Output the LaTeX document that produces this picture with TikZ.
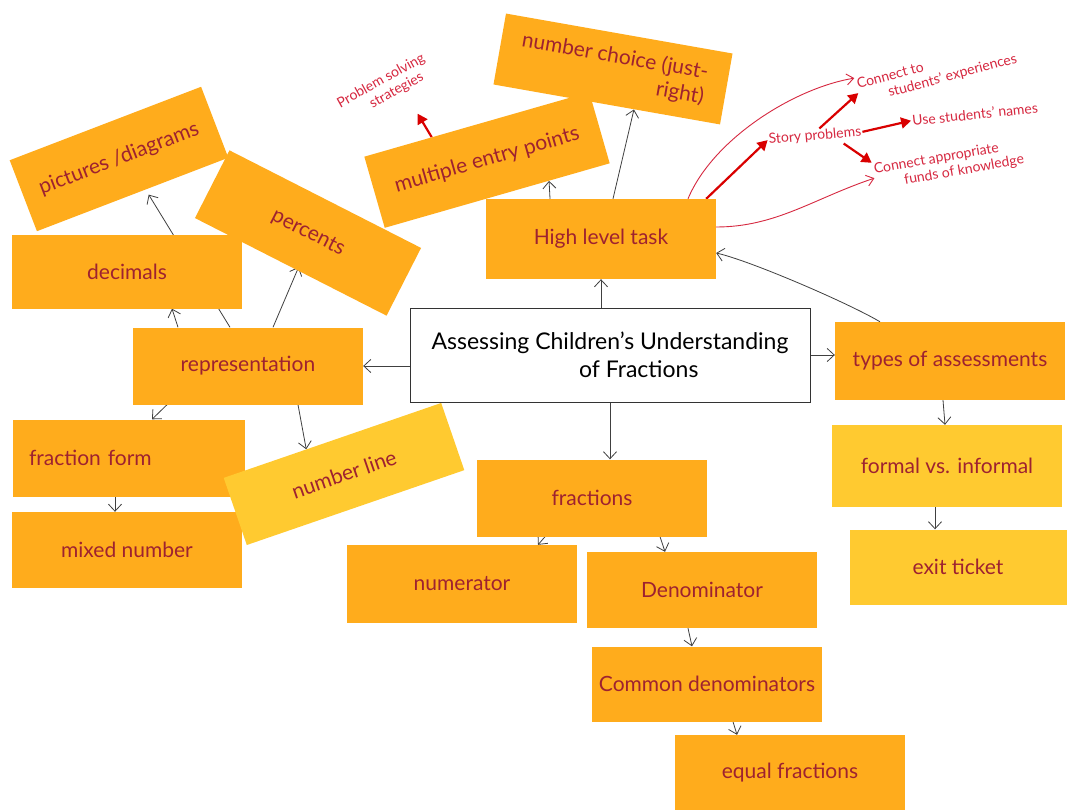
\documentclass[tikz,border=0pt]{standalone}
\usepackage{fontspec}
\setmainfont{Lato}
\usetikzlibrary{arrows.meta,calc}
\definecolor{noteorange}{RGB}{255,172,28}
\definecolor{noteyellow}{RGB}{255,202,48}
\definecolor{inkred}{RGB}{158,34,48}
\definecolor{penred}{RGB}{214,40,64}
\pgfdeclarelayer{background}
\pgfsetlayers{background,main}

\begin{document}
\begin{tikzpicture}[x=1pt,y=-1pt,
    note/.style={fill=noteorange,text=inkred,minimum width=230pt,minimum height=77pt,
      inner sep=0pt,font=\fontsize{21}{25}\selectfont},
    sticky/.style={note,fill=noteyellow},
    jot/.style={text=penred,font=\fontsize{14}{16}\selectfont,align=left,inner sep=1pt},
    link/.style={draw=black!75,line width=0.8pt,-{Straight Barb[length=7pt,width=13pt]}},
    redlink/.style={draw=penred,line width=0.9pt,-{Straight Barb[length=7pt,width=11pt]}},
    boldlink/.style={draw=red!85!black,line width=2.2pt,-{Triangle[length=10pt,width=11pt]}}]
  \useasboundingbox (0,0) rectangle (1067,810);

  % left cluster
  \node[note,rotate=21,minimum width=205pt,minimum height=76pt] (pic) at (119,159) {pictures /diagrams};
  \node[note,minimum height=73pt] (dec) at (127,272) {decimals};
  \node[note,rotate=-27,minimum width=215pt,minimum height=76pt] (pct) at (308,233) {percents};
  \node[note] (rep) at (248,366) {representation};
  \node[note,minimum width=232pt,text width=200pt,align=left] (ff) at (129,458) {fraction form};
  \node[note,minimum height=76pt] (mix) at (127,550) {mixed number};
  \node[sticky,rotate=19,minimum height=71pt] (nl) at (344,474) {number line};

  % centre and top
  \node[draw=black!80,fill=white,line width=0.8pt,minimum width=400pt,minimum height=94pt,
    font=\fontsize{23}{28}\selectfont,align=center] (cen) at (610,355)
    {Assessing Children's Understanding\\\hspace*{2.5em}of Fractions};
  \node[note,minimum height=80pt] (hlt) at (601,239) {High level task};
  \node[note,rotate=-10,minimum height=72pt,align=right] (nch) at (613,69) {number choice (just-\\right)};
  \node[note,rotate=16,minimum width=234pt,minimum height=74pt] (mep) at (487,160) {multiple entry points};

  % bottom
  \node[note] (frac) at (592,498) {fractions};
  \node[note,minimum height=78pt] (num) at (462,584) {numerator};
  \node[note,minimum height=76pt] (den) at (702,590) {Denominator};
  \node[note,minimum height=75pt] (cd) at (707,684) {Common denominators};
  \node[note,minimum height=76pt] (eq) at (790,773) {equal fractions};

  % right
  \node[note,minimum height=78pt] (types) at (950,361) {types of assessments};
  \node[sticky,minimum height=82pt] (fvi) at (947,466) {formal vs. informal};
  \node[sticky,minimum width=217pt,minimum height=75pt] (exit) at (958,567) {exit ticket};

  % red notes
  \node[jot,rotate=29] (pss) at (385,88) {Problem solving\\\hspace*{2em}strategies};
  \node[jot,rotate=5] (sp) at (815,136) {Story problems};
  \node[jot,rotate=15] (ctse) at (937,72) {Connect to\\\hspace*{2em}students' experiences};
  \node[jot,rotate=6] (usn) at (975,114) {Use students' names};
  \node[jot,rotate=10] (caf) at (949,165) {Connect appropriate\\\hspace*{2em}funds of knowledge};

  \begin{pgfonlayer}{background}
    \fill[white] (0,0) rectangle (1067,810);
    \draw[link] (cen.west |- rep.east) -- (rep.east);
    \draw[link] (hlt.south |- cen.north) -- (hlt.south);
    \draw[link] (cen.south) -- (cen.south |- frac.north);
    \draw[link] (cen.east) -- (cen.east -| types.west);
    \draw[link] ([xshift=-70pt]rep.north) -- ([xshift=45pt]dec.south);
    \draw[link] ([xshift=-18pt]rep.north) -- ([xshift=16pt]pic.south);
    \draw[link] ([xshift=25pt]rep.north) -- ([xshift=8pt]pct.south);
    \draw[link] ([xshift=-81pt]rep.south) -- ([xshift=23pt]ff.north);
    \draw[link] ([xshift=50pt]rep.south) -- ($(nl.north west)!.38!(nl.north east)$);
    \draw[link] ([xshift=-14pt]ff.south) -- ([xshift=-12pt]mix.north);
    \draw[link] ([xshift=-51pt]hlt.north) -- ($(mep.south west)!.73!(mep.south east)$);
    \draw[link] ([xshift=12pt]hlt.north) -- ($(nch.south west)!.62!(nch.south east)$);
    \draw[link] ([xshift=-47pt]frac.south) -- ([xshift=76pt]num.north);
    \draw[link] ([xshift=68pt]frac.south) -- ([xshift=-37pt]den.north);
    \draw[link] ([xshift=-14pt]den.south) -- ([xshift=-15pt]cd.north);
    \draw[link] ([xshift=26pt]cd.south) -- ([xshift=-53pt]eq.north);
    \draw[link] ([xshift=-7pt]types.south) -- ([xshift=-2pt]fvi.north);
    \draw[link] ([xshift=-12pt]fvi.south) -- ([xshift=-23pt]exit.north);
    \draw[link] ([xshift=-70pt]types.north) .. controls +(-30,-18) and +(35,8) .. ([yshift=-14pt]hlt.east);
    % red annotations
    \draw[redlink] ([xshift=87pt]hlt.north) .. controls +(25,-60) and +(-60,10) .. (ctse.north west);
    \draw[redlink] ([yshift=12pt]hlt.east) .. controls +(60,0) and +(-60,20) .. (caf.west);
    \draw[boldlink] ([xshift=-10pt]hlt.north east) -- (sp.west);
    \draw[boldlink] ([xshift=5pt]sp.north) -- (ctse.west);
    \draw[boldlink] (sp.east) -- (usn.west);
    \draw[boldlink] ([xshift=28pt]sp.south) -- (caf.north west);
    \draw[boldlink] ($(mep.north west)!.3!(mep.north east)$) -- ([shift={(25pt,-12pt)}]pss.south);
  \end{pgfonlayer}
\end{tikzpicture}
\end{document}
